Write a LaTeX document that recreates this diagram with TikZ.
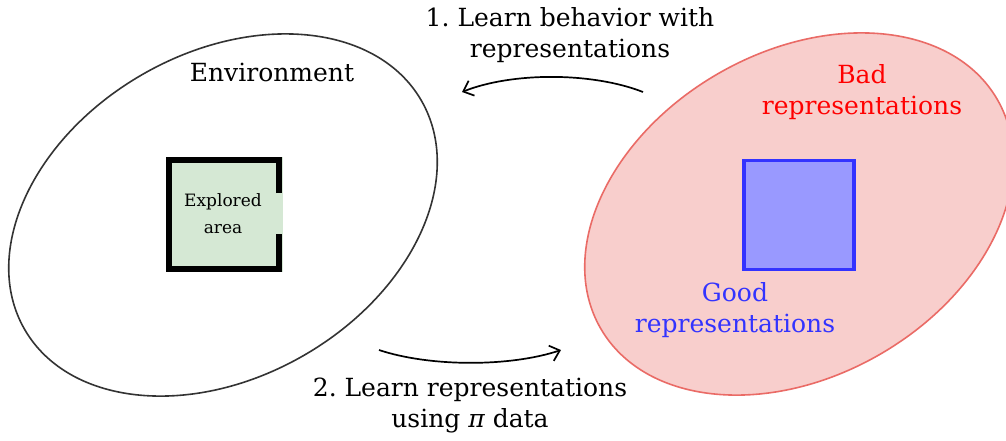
\documentclass[tikz,border=0pt]{standalone}
\usepackage{fontspec}
\setmainfont{DejaVu Serif}
\usetikzlibrary{shapes.geometric,arrows.meta}
\frenchspacing
\definecolor{envline}{HTML}{333333}
\definecolor{areafill}{HTML}{D5E8D4}
\definecolor{badfill}{HTML}{F8CECC}
\definecolor{badline}{HTML}{EA6B66}
\definecolor{badtext}{HTML}{FF0000}
\definecolor{goodline}{HTML}{3333FF}
\definecolor{goodfill}{HTML}{9999FF}
\tikzset{
  region/.style={ellipse, inner sep=0pt, minimum width=458pt, minimum height=324pt, rotate=30, line width=1.6pt},
  bigtext/.style={align=center, font=\fontsize{25}{31}\selectfont, inner sep=0pt},
  smalltext/.style={align=center, font=\fontsize{17}{27}\selectfont, inner sep=0pt},
  flow/.style={line width=1.7pt, -{Straight Barb[length=9pt,width=16pt,line width=1.7pt]}},
}
\begin{document}
\begin{tikzpicture}[x=1pt,y=-1pt]
\useasboundingbox (0,0) rectangle (1006,440);
\clip (0,0) rectangle (1006,440);
\fill[white] (0,0) rectangle (1006,440);

% the environment and the representation space
\node[region, draw=envline] (env) at (223,215) {};
\node[region, draw=badline, fill=badfill] (space) at (799,214) {};

% explored part of the environment: a room with an opening on the right
\fill[areafill] (166,157) rectangle (283,272);
\draw[line width=6pt, line join=miter] (278.5,193) -- (278.5,160) -- (169,160) -- (169,269) -- (278.5,269) -- (278.5,234);
\node[smalltext] (area) at (223,214) {Explored\\area};

% good representations
\node[draw=goodline, fill=goodfill, line width=3.5pt, minimum width=110pt, minimum height=109pt, inner sep=0pt] (good) at (799,215) {};

% labels
\node[bigtext] (envlabel) at (272,72) {Environment};
\node[bigtext, text=badtext] (badlabel) at (862,92) {Bad\\representations};
\node[bigtext, text=goodline] (goodlabel) at (735,310) {Good\\representations};
\node[bigtext] (steplone) at (570,35) {1. Learn behavior with\\representations};
\node[bigtext] (stepltwo) at (470,405) {2. Learn representations\\using {\itshape π} data};

% the two steps
\coordinate (s1from) at (643,92);
\coordinate (s1to) at (462,92);
\coordinate (s2from) at (379,350);
\coordinate (s2to) at (561,350);
\draw[flow] (s1from) .. controls (592,72) and (512,72) .. (s1to);
\draw[flow] (s2from) .. controls (430,367) and (510,367) .. (s2to);
\end{tikzpicture}
\end{document}
